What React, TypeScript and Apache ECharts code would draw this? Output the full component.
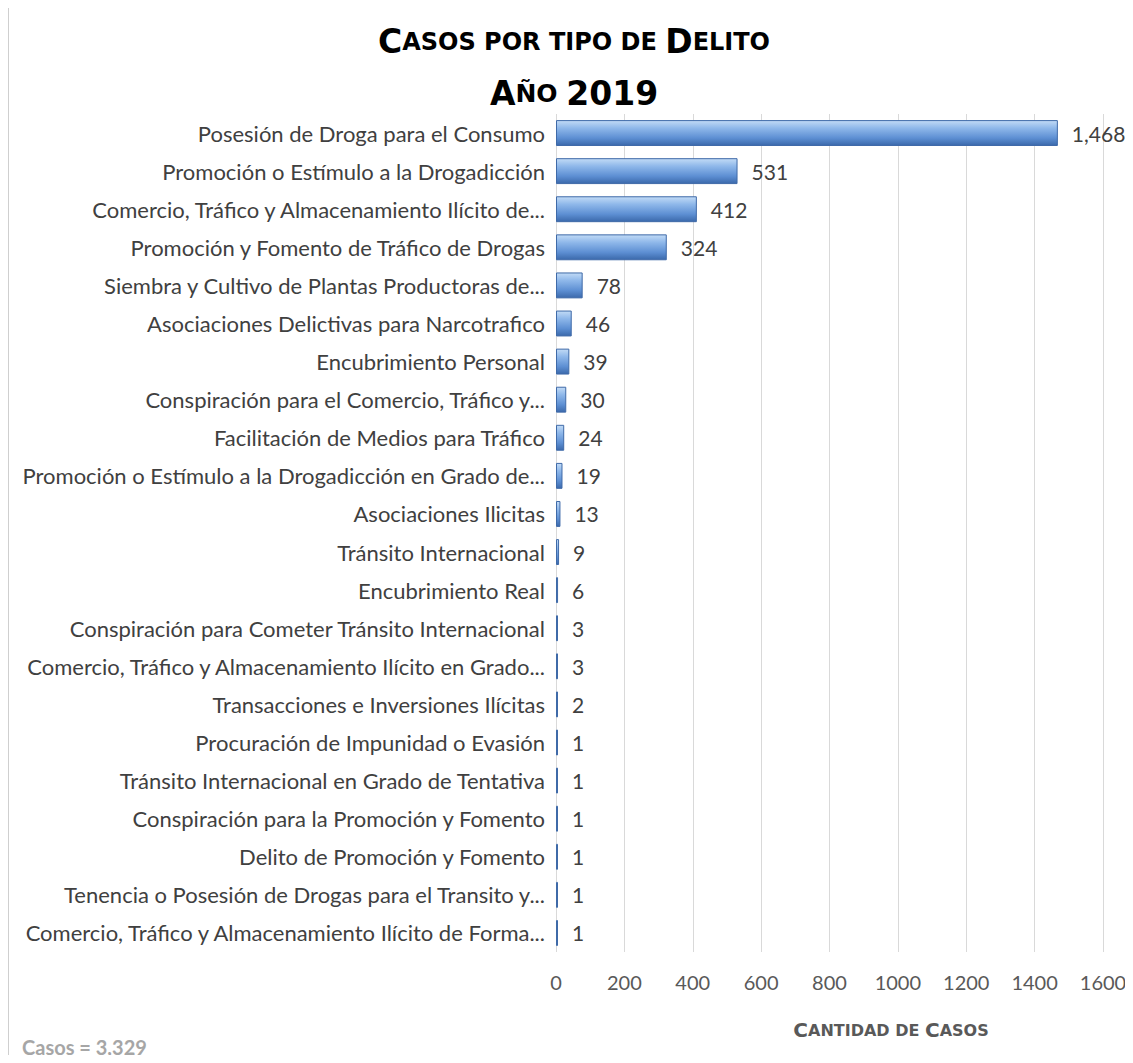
import React, { useEffect, useRef } from "react";
import * as echarts from "echarts";

const categories = [
  "Posesión de Droga para el Consumo",
  "Promoción o Estímulo a la Drogadicción",
  "Comercio, Tráfico y Almacenamiento Ilícito de...",
  "Promoción y Fomento de Tráfico de Drogas",
  "Siembra y Cultivo de Plantas Productoras de...",
  "Asociaciones Delictivas para Narcotrafico",
  "Encubrimiento Personal",
  "Conspiración para el Comercio, Tráfico y...",
  "Facilitación de Medios para Tráfico",
  "Promoción o Estímulo a la Drogadicción en Grado de...",
  "Asociaciones Ilicitas",
  "Tránsito Internacional",
  "Encubrimiento Real",
  "Conspiración para Cometer Tránsito Internacional",
  "Comercio, Tráfico y Almacenamiento Ilícito en Grado...",
  "Transacciones e Inversiones Ilícitas",
  "Procuración de Impunidad o Evasión",
  "Tránsito Internacional en Grado de Tentativa",
  "Conspiración para la Promoción y Fomento",
  "Delito de Promoción y Fomento",
  "Tenencia o Posesión de Drogas para el Transito y...",
  "Comercio, Tráfico y Almacenamiento Ilícito de Forma...",
];

const casos = [1468, 531, 412, 324, 78, 46, 39, 30, 24, 19, 13, 9, 6, 3, 3, 2, 1, 1, 1, 1, 1, 1];

const xTicks = { min: 0, max: 1600, interval: 200 };
const totalText = "Casos = 3,329";

const FONT = "Lato, 'Open Sans', sans-serif";
const BOLD = "'DejaVu Sans', 'Open Sans', sans-serif";

export default function App() {
  const ref = useRef<HTMLDivElement>(null);
  useEffect(() => {
    if (!ref.current) return;
    const chart = echarts.init(ref.current, undefined, { renderer: "svg" });
    const barGradient = new echarts.graphic.LinearGradient(0, 0, 0, 1, [
      { offset: 0, color: "#c2dbf6" },
      { offset: 0.3, color: "#8fb8ea" },
      { offset: 0.7, color: "#5d8fd3" },
      { offset: 1, color: "#3b69ab" },
    ]);
    chart.setOption({
      animation: false,
      backgroundColor: "#ffffff",
      textStyle: { fontFamily: FONT },
      grid: { left: 556, right: 30, top: 114, bottom: 111, containLabel: false },
      xAxis: {
        type: "value",
        min: xTicks.min,
        max: xTicks.max,
        interval: xTicks.interval,
        axisLine: { show: false },
        axisTick: { show: false },
        splitLine: { show: true, lineStyle: { color: "#d9d9d9", width: 1 } },
        axisLabel: {
          color: "#595959",
          fontSize: 20,
          margin: 20,
          fontFamily: FONT,
          formatter: (v: number) => String(v),
        },
      },
      yAxis: {
        type: "category",
        data: categories,
        inverse: true,
        axisLine: { show: false },
        axisTick: { show: false },
        axisLabel: { color: "#404040", fontSize: 22, margin: 11, fontFamily: FONT },
      },
      series: [
        {
          type: "bar",
          data: casos,
          barCategoryGap: "32%",
          barMinHeight: 2,
          itemStyle: { color: barGradient, borderColor: "#3f6aa8", borderWidth: 1 },
          label: {
            show: true,
            position: "right",
            distance: 14,
            color: "#404040",
            fontSize: 21,
            fontFamily: FONT,
            formatter: (p: any) => Number(p.value).toLocaleString("en-US"),
          },
        },
      ],
      graphic: [
        {
          type: "line",
          z: 100,
          shape: { x1: 7, y1: 7, x2: 1133, y2: 7 },
          style: { stroke: "#cfcfcf", lineWidth: 2 },
          silent: true,
        },
        {
          type: "line",
          z: 100,
          shape: { x1: 8, y1: 7, x2: 8, y2: 1063 },
          style: { stroke: "#cfcfcf", lineWidth: 2 },
          silent: true,
        },
        {
          type: "text",
          x: 574,
          y: 58,
          style: {
            text: "{b|C}{s|ASOS POR TIPO DE }{b|D}{s|ELITO}",
            align: "center",
            verticalAlign: "bottom",
            rich: {
              b: { fontSize: 33, fontWeight: "bold", fill: "#000000", fontFamily: BOLD },
              s: { fontSize: 24, fontWeight: "bold", fill: "#000000", fontFamily: BOLD },
            },
          },
        },
        {
          type: "text",
          x: 574,
          y: 110,
          style: {
            text: "{b|A}{s|ÑO }{b|2019}",
            align: "center",
            verticalAlign: "bottom",
            rich: {
              b: { fontSize: 33, fontWeight: "bold", fill: "#000000", fontFamily: BOLD },
              s: { fontSize: 25, fontWeight: "bold", fill: "#000000", fontFamily: BOLD },
            },
          },
        },
        {
          type: "text",
          x: 891,
          y: 1040,
          style: {
            text: "{b|C}{s|ANTIDAD DE }{b|C}{s|ASOS}",
            align: "center",
            verticalAlign: "bottom",
            rich: {
              b: { fontSize: 20, fontWeight: "bold", fill: "#595959", fontFamily: BOLD },
              s: { fontSize: 16, fontWeight: "bold", fill: "#595959", fontFamily: BOLD },
            },
          },
        },
        {
          type: "text",
          x: 22,
          y: 1047,
          style: {
            text: totalText,
            fontSize: 20,
            fill: "#a6a6a6",
            fontWeight: "bold",
            fontFamily: FONT,
            verticalAlign: "middle",
          },
        },
      ],
    });
    return () => chart.dispose();
  }, []);
  return (
    <div style={{ position: "relative", width: 1133, height: 1063, margin: -8, overflow: "hidden" }}>
      <div ref={ref} style={{ width: 1133, height: 1063 }} />
    </div>
  );
}
